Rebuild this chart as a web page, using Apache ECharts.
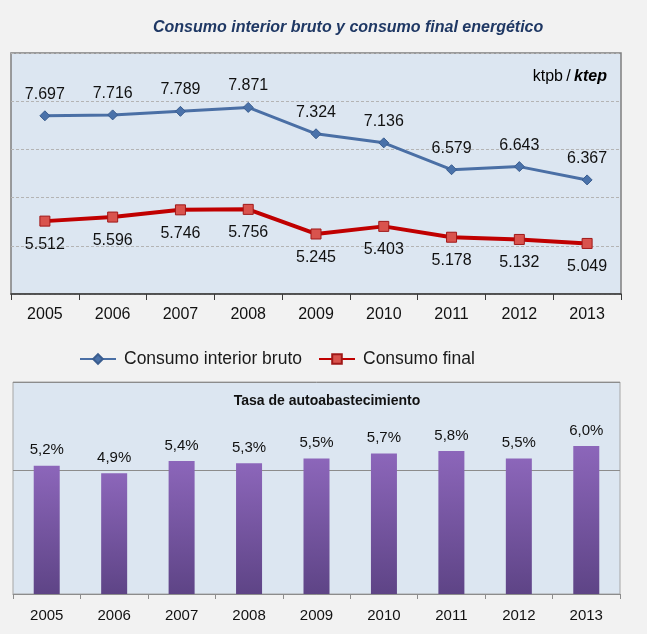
<!DOCTYPE html>
<html>
<head>
<meta charset="utf-8">
<script src="https://cdn.jsdelivr.net/npm/echarts@6/dist/echarts.min.js"></script>
<style>
html,body{margin:0;padding:0;background:#f2f2f2;}
#c{width:647px;height:634px;}
</style>
</head>
<body>
<div id="c"></div>
<script>
const years = ['2005','2006','2007','2008','2009','2010','2011','2012','2013'];
const consumoInteriorBruto = [7697,7716,7789,7871,7324,7136,6579,6643,6367];
const consumoFinal = [5512,5596,5746,5756,5245,5403,5178,5132,5049];
const tasaAutoabastecimiento = [5.2,4.9,5.4,5.3,5.5,5.7,5.8,5.5,6.0];

const FONT = '"Liberation Sans", Arial, sans-serif';
function fmtMiles(v){
  const t = Math.floor(v/1000), r = v % 1000;
  return t + '.' + String(r).padStart(3,'0');
}
function fmtPct(v){ return v.toFixed(1).replace('.', ',') + '%'; }

const chart = echarts.init(document.getElementById('c'));
chart.setOption({
  backgroundColor: '#f2f2f2',
  animation: false,
  title: [{
    text: 'Consumo interior bruto y consumo final energético',
    left: 148, top: 15,
    textStyle: {fontFamily: FONT, fontSize: 16, fontStyle: 'italic', fontWeight: 'bold', color: '#1f3864'}
  }],
  legend: {
    data: ['Consumo interior bruto', 'Consumo final'],
    left: 74, top: 345,
    itemWidth: 36, itemHeight: 12, itemGap: 16,
    textStyle: {fontFamily: FONT, fontSize: 17.5, color: '#1a1a1a', padding: [0,0,0,3]}
  },
  graphic: [
    {
      type: 'text', x: 607, y: 77,
      style: {
        text: '{a|ktpb} {b|/} {c|ktep}',
        align: 'right', verticalAlign: 'middle',
        rich: {
          a: {fontFamily: FONT, fontSize: 16, color: '#111'},
          b: {fontFamily: FONT, fontSize: 16, color: '#333'},
          c: {fontFamily: FONT, fontSize: 16, color: '#1f3864', fontWeight: 'bold', fontStyle: 'italic'}
        }
      }
    },
    {
      type: 'text', x: 327, y: 401,
      style: {
        text: 'Tasa de autoabastecimiento',
        align: 'center', verticalAlign: 'middle',
        fontFamily: FONT, fontSize: 14, fontWeight: 'bold', fill: '#111'
      }
    }
  ],
  grid: [
    {left: 11, right: 26, top: 53, bottom: 340, show: true, backgroundColor: '#dce6f1', borderColor: '#7f7f7f', borderWidth: 1.5},
    {left: 13, right: 27, top: 382, bottom: 40, show: true, backgroundColor: '#dce6f1', borderColor: '#a6a6a6', borderWidth: 1}
  ],
  xAxis: [
    {
      type: 'category', gridIndex: 0, data: years, boundaryGap: true,
      axisLine: {lineStyle: {color: '#3a3a3a', width: 1.5}},
      axisTick: {show: true, length: 6, lineStyle: {color: '#3a3a3a'}},
      axisLabel: {fontFamily: FONT, fontSize: 16, color: '#111', margin: 13}
    },
    {
      type: 'category', gridIndex: 1, data: years, boundaryGap: true,
      axisLine: {lineStyle: {color: '#8c8c8c', width: 1}},
      axisTick: {show: true, length: 5, lineStyle: {color: '#8c8c8c'}},
      axisLabel: {fontFamily: FONT, fontSize: 15, color: '#111', margin: 14}
    }
  ],
  yAxis: [
    {
      type: 'value', gridIndex: 0, min: 4000, max: 9000, interval: 1000,
      axisLabel: {show: false}, axisLine: {show: false}, axisTick: {show: false},
      splitLine: {lineStyle: {color: '#b4b4b4', type: [3,2], width: 1}}
    },
    {
      type: 'value', gridIndex: 1, min: 0, max: 8.6, interval: 5,
      axisLabel: {show: false}, axisLine: {show: false}, axisTick: {show: false},
      splitLine: {lineStyle: {color: '#8c8c8c', width: 1}}
    }
  ],
  series: [
    {
      name: 'Consumo interior bruto', type: 'line', xAxisIndex: 0, yAxisIndex: 0,
      data: consumoInteriorBruto,
      symbol: 'diamond', symbolSize: 10,
      lineStyle: {color: '#4a6fa5', width: 3},
      itemStyle: {color: '#4a72aa', borderColor: '#3a5d8f', borderWidth: 1},
      label: {show: true, position: 'top', distance: 8, formatter: p => fmtMiles(p.value),
        fontFamily: FONT, fontSize: 16, color: '#111'}
    },
    {
      name: 'Consumo final', type: 'line', xAxisIndex: 0, yAxisIndex: 0,
      data: consumoFinal,
      symbol: 'rect', symbolSize: 10,
      lineStyle: {color: '#c00000', width: 4},
      itemStyle: {color: '#d9534d', borderColor: '#a01818', borderWidth: 1},
      label: {show: true, position: 'bottom', distance: 10, formatter: p => fmtMiles(p.value),
        fontFamily: FONT, fontSize: 16, color: '#111'}
    },
    {
      name: 'Tasa', type: 'bar', xAxisIndex: 1, yAxisIndex: 1,
      data: tasaAutoabastecimiento,
      barWidth: 26,
      itemStyle: {color: new echarts.graphic.LinearGradient(0,0,0,1,[
        {offset: 0, color: '#8c66ba'}, {offset: 1, color: '#5e4486'}])},
      label: {show: true, position: 'top', distance: 8, formatter: p => fmtPct(p.value),
        fontFamily: FONT, fontSize: 15, color: '#111'}
    }
  ]
});
</script>
</body>
</html>
